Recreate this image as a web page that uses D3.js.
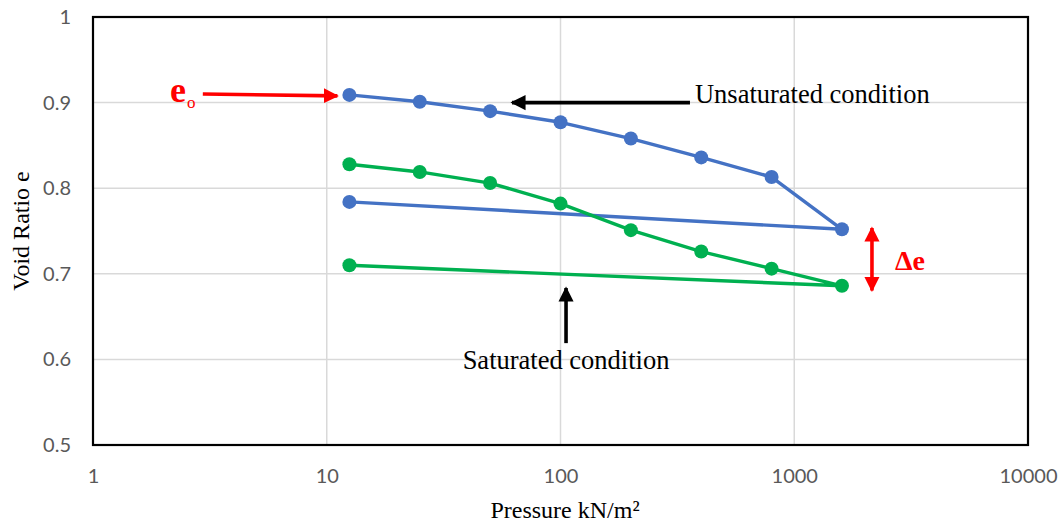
<!DOCTYPE html>
<html>
<head>
<meta charset="utf-8">
<script src="https://cdn.jsdelivr.net/npm/d3@7"></script>
<style>
  body { margin: 0; background: #fff; }
  svg { display: block; }
</style>
</head>
<body>
<div id="chart"></div>
<script>
// consolidation test, pressure in kN/m2
const pressures = [12.5, 25, 50, 100, 200, 400, 800, 1600, 12.5];
const unsaturated = [0.909, 0.901, 0.890, 0.877, 0.858, 0.836, 0.813, 0.752, 0.784];
const saturated = [0.828, 0.819, 0.806, 0.782, 0.751, 0.726, 0.706, 0.686, 0.710];
const xTicks = [1, 10, 100, 1000, 10000];
const yTicks = [0.5, 0.6, 0.7, 0.8, 0.9, 1];

const width = 1060, height = 527;
const margin = { top: 17, right: 32, bottom: 82, left: 93 };
const tickFont = "Lato, 'Open Sans', sans-serif";
const serif = "'Liberation Serif', 'Times New Roman', serif";

const svg = d3.select("#chart").append("svg")
    .attr("width", width)
    .attr("height", height);

const x = d3.scaleLog()
    .domain([1, 10000])
    .range([margin.left, width - margin.right]);

const y = d3.scaleLinear()
    .domain([0.5, 1])
    .range([height - margin.bottom, margin.top]);

// gridlines
svg.append("g")
    .selectAll("line")
    .data(yTicks)
    .join("line")
    .attr("x1", margin.left)
    .attr("x2", width - margin.right)
    .attr("y1", d => y(d))
    .attr("y2", d => y(d))
    .attr("stroke", "#d9d9d9")
    .attr("stroke-width", 1.5);

svg.append("g")
    .selectAll("line")
    .data(xTicks)
    .join("line")
    .attr("x1", d => x(d))
    .attr("x2", d => x(d))
    .attr("y1", margin.top)
    .attr("y2", height - margin.bottom)
    .attr("stroke", "#d9d9d9")
    .attr("stroke-width", 1.5);

// tick labels
const yAxis = svg.append("g")
    .attr("transform", `translate(${margin.left},0)`)
    .call(d3.axisLeft(y).tickValues(yTicks).tickSize(0).tickPadding(22)
        .tickFormat(d => d3.format("")(+d.toFixed(1))));
yAxis.select(".domain").remove();
yAxis.selectAll("text")
    .attr("fill", "#595959")
    .style("font-family", tickFont)
    .style("font-size", "20px");

const xAxis = svg.append("g")
    .attr("transform", `translate(0,${height - margin.bottom})`)
    .call(d3.axisBottom(x).tickValues(xTicks).tickSize(0).tickPadding(24)
        .tickFormat(d3.format("")));
xAxis.select(".domain").remove();
xAxis.selectAll("text")
    .attr("fill", "#595959")
    .style("font-family", tickFont)
    .style("font-size", "20px");

// plot border
svg.append("rect")
    .attr("x", margin.left)
    .attr("y", margin.top)
    .attr("width", width - margin.left - margin.right)
    .attr("height", height - margin.top - margin.bottom)
    .attr("fill", "none")
    .attr("stroke", "#000")
    .attr("stroke-width", 2.2);

// axis titles
svg.append("text")
    .attr("x", 565)
    .attr("y", 518)
    .attr("text-anchor", "middle")
    .style("font-family", serif)
    .style("font-size", "24px")
    .text("Pressure kN/m²");

svg.append("text")
    .attr("transform", `translate(29,${(margin.top + height - margin.bottom) / 2}) rotate(-90)`)
    .attr("text-anchor", "middle")
    .style("font-family", serif)
    .style("font-size", "24px")
    .text("Void Ratio e");

// series
const series = [
    { name: "unsaturated", values: unsaturated, color: "#4472C4" },
    { name: "saturated", values: saturated, color: "#00B050" }
];

const line = d3.line()
    .x(d => x(d[0]))
    .y(d => y(d[1]));

series.forEach(s => {
    const pts = pressures.map((p, i) => [p, s.values[i]]);
    svg.append("path")
        .datum(pts)
        .attr("d", line)
        .attr("fill", "none")
        .attr("stroke", s.color)
        .attr("stroke-width", 3.4)
        .attr("stroke-linejoin", "round");
    svg.append("g")
        .selectAll("circle")
        .data(pts)
        .join("circle")
        .attr("cx", d => x(d[0]))
        .attr("cy", d => y(d[1]))
        .attr("r", 7)
        .attr("fill", s.color);
});

// arrow heads
const defs = svg.append("defs");
[["head-red", "red"], ["head-black", "#000"]].forEach(([id, c]) => {
    defs.append("marker")
        .attr("id", id)
        .attr("viewBox", "0 0 10 10")
        .attr("refX", 9)
        .attr("refY", 5)
        .attr("markerWidth", 4.2)
        .attr("markerHeight", 4.5)
        .attr("markerUnits", "strokeWidth")
        .attr("orient", "auto-start-reverse")
        .append("path")
        .attr("d", "M0,0 L10,5 L0,10 z")
        .attr("fill", c);
});

// e0 annotation
svg.append("line")
    .attr("x1", x(2.95)).attr("y1", y(0.910))
    .attr("x2", x(11.1)).attr("y2", y(0.9078))
    .attr("stroke", "red").attr("stroke-width", 3.6)
    .attr("marker-end", "url(#head-red)");

const e0 = svg.append("text")
    .attr("x", 170)
    .attr("y", y(0.9) - 1)
    .attr("fill", "red")
    .style("font-family", serif)
    .style("font-weight", "bold")
    .style("font-size", "36px");
e0.append("tspan").text("e");
e0.append("tspan")
    .attr("dx", 1)
    .attr("dy", 6)
    .style("font-size", "17px")
    .style("font-weight", "normal")
    .text("o");

// unsaturated label
svg.append("line")
    .attr("x1", x(358)).attr("y1", y(0.9))
    .attr("x2", x(62)).attr("y2", y(0.9))
    .attr("stroke", "#000").attr("stroke-width", 3.6)
    .attr("marker-end", "url(#head-black)");
svg.append("text")
    .attr("x", x(376))
    .attr("y", y(0.9))
    .style("font-family", serif)
    .style("font-size", "26.5px")
    .text("Unsaturated condition");

// saturated label
svg.append("line")
    .attr("x1", x(105.6)).attr("y1", y(0.619))
    .attr("x2", x(105.6)).attr("y2", y(0.6834))
    .attr("stroke", "#000").attr("stroke-width", 3.6)
    .attr("marker-end", "url(#head-black)");
svg.append("text")
    .attr("x", x(105.6))
    .attr("y", y(0.6) + 10)
    .attr("text-anchor", "middle")
    .style("font-family", serif)
    .style("font-size", "26.5px")
    .text("Saturated condition");

// delta e
svg.append("line")
    .attr("x1", x(2150)).attr("y1", y(0.7535))
    .attr("x2", x(2150)).attr("y2", y(0.6805))
    .attr("stroke", "red").attr("stroke-width", 3.6)
    .attr("marker-start", "url(#head-red)")
    .attr("marker-end", "url(#head-red)");
svg.append("text")
    .attr("x", 895)
    .attr("y", 270)
    .attr("fill", "red")
    .style("font-family", serif)
    .style("font-weight", "bold")
    .style("font-size", "28px")
    .text("Δe");
</script>
</body>
</html>
